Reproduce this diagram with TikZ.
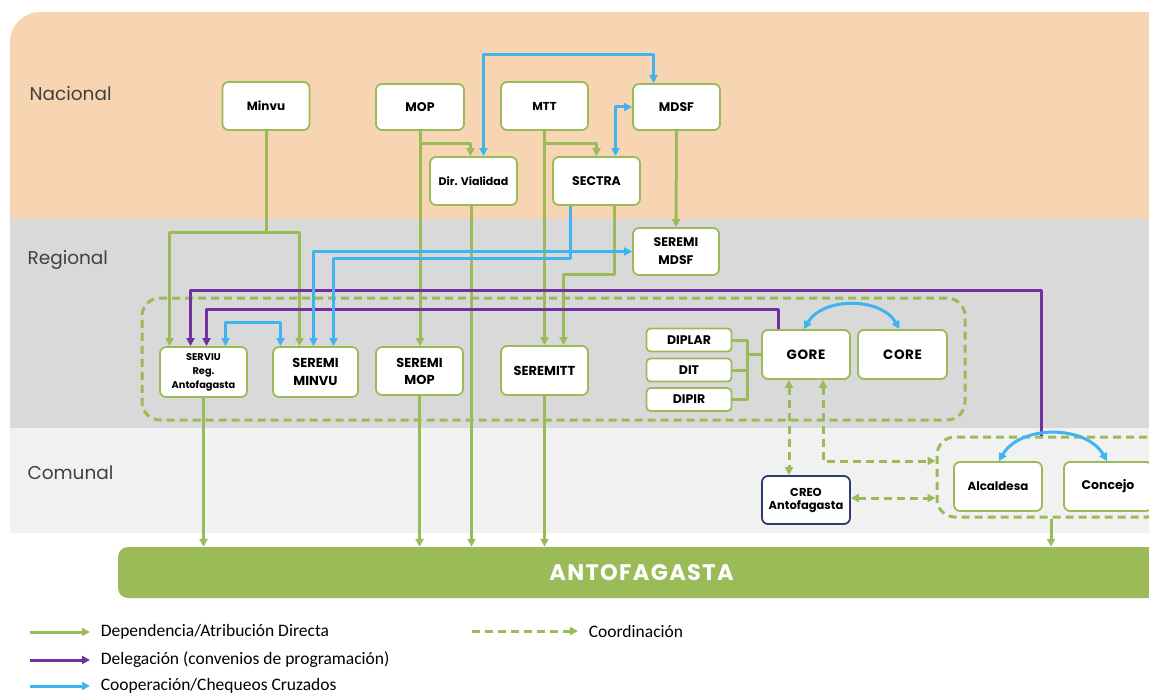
\documentclass[tikz,border=0pt]{standalone}
\usepackage{fontspec}
\setmainfont{Poppins}
\newfontfamily\legendfont{Carlito}
\usetikzlibrary{arrows.meta}
\definecolor{peach}{RGB}{247,213,179}
\definecolor{midgray}{RGB}{217,217,217}
\definecolor{litegray}{RGB}{241,241,241}
\definecolor{leaf}{RGB}{155,187,89}
\definecolor{sky}{RGB}{64,180,240}
\definecolor{purp}{RGB}{112,48,160}
\definecolor{navy}{RGB}{47,60,110}
\definecolor{ink}{RGB}{64,64,64}

\tikzset{
  box/.style={draw=leaf, line width=1.8pt, fill=white, rounded corners=6pt,
    align=center, text=black, inner sep=2pt,
    font=\bfseries\fontsize{12.5}{14}\selectfont},
  group/.style={draw=leaf, line width=3pt, dash pattern=on 8pt off 5pt,
    rounded corners=18pt},
  dep/.style={->, draw=leaf, line width=3pt},
  deleg/.style={->, draw=purp, line width=3pt},
  coop/.style={draw=sky, line width=3pt},
  coord/.style={draw=leaf, line width=3pt, dash pattern=on 8pt off 5pt},
  link/.style={draw=leaf, line width=3pt},
  level/.style={anchor=west, text=ink, font=\fontsize{18.5}{22}\selectfont},
  legtext/.style={anchor=west, text=black, font=\legendfont\fontsize{17.5}{20}\selectfont}
}

\begin{document}
\begin{tikzpicture}[x=1pt,y=-1pt,line join=round,>={Triangle[length=8pt,width=8pt]}]
	\useasboundingbox (0,0) rectangle (1149,695);

	% bands
	\fill[peach] (10,219) [rounded corners=30pt] -- (10,12) [sharp corners] -- (1149,12) -- (1149,219) -- cycle;
	\fill[midgray] (10,219) rectangle (1149,428);
	\fill[litegray] (10,428) rectangle (1149,533);

	\node[level] (nac) at (26,94) {Nacional};
	\node[level] (reg) at (24,260) {Regional};
	\node[level] (com) at (24,473) {Comunal};

	% groups
	\node[group, minimum width=823pt, minimum height=122pt] (regional) at (553.5,359) {};
	\node[group, minimum width=228pt, minimum height=80pt] (comunal) at (1051,477) {};

	% nacional
	\node[box, minimum width=87pt, minimum height=48pt, font=\bfseries\fontsize{12}{14}\selectfont] (minvu) at (266,106) {Minvu};
	\node[box, minimum width=88pt, minimum height=46pt] (mop) at (420,107) {MOP};
	\node[box, minimum width=87pt, minimum height=48pt, font=\bfseries\fontsize{11.5}{14}\selectfont] (mtt) at (544.5,106) {MTT};
	\node[box, minimum width=87pt, minimum height=46pt] (mdsf) at (676.5,107) {MDSF};
	\node[box, minimum width=87pt, minimum height=48pt, font=\bfseries\fontsize{11}{13}\selectfont] (vialidad) at (473.5,181) {Dir. Vialidad};
	\node[box, minimum width=87pt, minimum height=48pt] (sectra) at (596.5,181) {SECTRA};

	% regional
	\node[box, minimum width=86pt, minimum height=47pt, font=\bfseries\fontsize{12.5}{18}\selectfont] (seremimdsf) at (676,251.5) {SEREMI\\MDSF};
	\node[box, minimum width=87pt, minimum height=50pt, font=\bfseries\fontsize{9.8}{14}\selectfont] (serviu) at (203.5,372) {SERVIU\\Reg.\\Antofagasta};
	\node[box, minimum width=85pt, minimum height=50pt, font=\bfseries\fontsize{13}{18.5}\selectfont] (seremiminvu) at (315.5,372) {SEREMI\\MINVU};
	\node[box, minimum width=87pt, minimum height=48pt, font=\bfseries\fontsize{13}{17}\selectfont] (seremimop) at (419.5,371) {SEREMI\\MOP};
	\node[box, minimum width=87pt, minimum height=49pt, font=\bfseries\fontsize{13}{14}\selectfont] (seremitt) at (544.5,370.5) {SEREMITT};
	\node[box, minimum width=85pt, minimum height=23pt, rounded corners=4pt, font=\bfseries\fontsize{12.5}{14}\selectfont] (diplar) at (689,340) {DIPLAR};
	\node[box, minimum width=85pt, minimum height=23pt, rounded corners=4pt, font=\bfseries\fontsize{12.5}{14}\selectfont] (dit) at (689,370) {DIT};
	\node[box, minimum width=85pt, minimum height=23pt, rounded corners=4pt, font=\bfseries\fontsize{12.5}{14}\selectfont] (dipir) at (689,399.5) {DIPIR};
	\node[box, minimum width=88pt, minimum height=49pt, font=\bfseries\fontsize{13.5}{15}\selectfont\addfontfeatures{LetterSpace=4}] (gore) at (806,354.5) {GORE};
	\node[box, minimum width=89pt, minimum height=49pt, font=\bfseries\fontsize{13.5}{15}\selectfont\addfontfeatures{LetterSpace=4}] (core) at (902.5,354.5) {CORE};

	% comunal
	\node[box, draw=navy, minimum width=88pt, minimum height=48pt, font=\bfseries\fontsize{11.5}{13}\selectfont] (creo) at (806,500) {CREO\\Antofagasta};
	\node[box, minimum width=88pt, minimum height=49pt, font=\bfseries\fontsize{11.8}{14}\selectfont] (alcaldesa) at (998,486.5) {Alcaldesa};
	\node[box, minimum width=88pt, minimum height=49pt, font=\bfseries\fontsize{12.5}{14}\selectfont] (concejo) at (1108,486.5) {Concejo};

	% comuna
	\node[fill=leaf, rounded corners=10pt, minimum width=1047pt, minimum height=51pt, text=white,
	      font=\bfseries\fontsize{22.5}{26}\selectfont\addfontfeatures{LetterSpace=6}] (antof) at (641.5,572.5) {ANTOFAGASTA};

	% dependencia
	\draw[dep] (minvu.south) -- ++(0,102) -| ([xshift=-34]serviu.north);
	\draw[dep] (minvu.south) -- ++(0,102) -| ([xshift=-16]seremiminvu.north);
	\draw[dep] (mop.south) -- (mop.south |- seremimop.north);
	\draw[dep] ([yshift=-13]mop.south) -| ([xshift=-3]vialidad.north);
	\draw[dep] (mtt.south) -- (mtt.south |- seremitt.north);
	\draw[dep] ([yshift=-13]mtt.south) -| (sectra.north);
	\draw[dep] (mdsf.south) -- (seremimdsf.north);
	\draw[dep] ([xshift=18]sectra.south) -- ++(0,69) -| ([xshift=19]seremitt.north);
	\draw[dep] ([xshift=-2]vialidad.south) -- ([xshift=-2]vialidad.south |- antof.north);
	\draw[dep] (serviu.south) -- (serviu.south |- antof.north);
	\draw[dep] (seremimop.south) -- (seremimop.south |- antof.north);
	\draw[dep] (seremitt.south) -- (seremitt.south |- antof.north);
	\draw[dep] (comunal.south) -- (comunal.south |- antof.north);
	\coordinate (bus) at ([xshift=-14]gore.west);
	\draw[link] (diplar.east) -| (bus) |- (dipir.east);
	\draw[link] (dit.east) -- (dit.east -| bus);
	\draw[link] (gore.west) -- (bus);

	% delegacion
	\draw[deleg] ([xshift=-28]gore.north) -- ++(0,-20) -| ([xshift=3]serviu.north);
	\draw[deleg] ([xshift=-10]comunal.north) -- ++(0,-145) -| ([xshift=-13]serviu.north);

	% cooperacion
	\draw[coop,<->] ([xshift=10]vialidad.north) -- ++(0,-102) -| ([xshift=-23]mdsf.north);
	\draw[coop,<->] ([xshift=19]sectra.north) |- (mdsf.west);
	\draw[coop,<->] ([xshift=-2]seremiminvu.north) |- (seremimdsf.west);
	\draw[coop,->] ([xshift=-26]sectra.south) -- ++(0,53) -| ([xshift=18]seremiminvu.north);
	\draw[coop,<->] ([xshift=22]serviu.north) -- ++(0,-24) -| ([xshift=-35]seremiminvu.north);
	\draw[coop,<->] ([xshift=-2]gore.north) to[out=60,in=120] ([xshift=-3]core.north);
	\draw[coop,<->] ([xshift=1]alcaldesa.north) to[out=60,in=120] ([xshift=-1]concejo.north);

	% coordinacion
	\draw[coord,<->] ([xshift=-17]gore.south) -- ([xshift=-17]gore.south |- creo.north);
	\draw[coord,<->] ([xshift=17]gore.south) |- ([yshift=16]comunal.west);
	\draw[coord,<->] ([yshift=2]creo.east) -- ([yshift=2]creo.east -| comunal.west);

	% leyenda
	\coordinate (k1) at (30,632);
	\coordinate (k2) at (30,660);
	\coordinate (k3) at (30,686);
	\coordinate (k4) at (472,631);
	\draw[dep] (k1) -- ++(60,0) node[legtext, xshift=6pt] (t1) {Dependencia/Atribución Directa};
	\draw[deleg] (k2) -- ++(60,0) node[legtext, xshift=6pt] (t2) {Delegación (convenios de programación)};
	\draw[coop,->] (k3) -- ++(60,0) node[legtext, xshift=6pt] (t3) {Cooperación/Chequeos Cruzados};
	\draw[coord,->] (k4) -- ++(106,0) node[legtext, xshift=6pt] (t4) {Coordinación};
\end{tikzpicture}
\end{document}
